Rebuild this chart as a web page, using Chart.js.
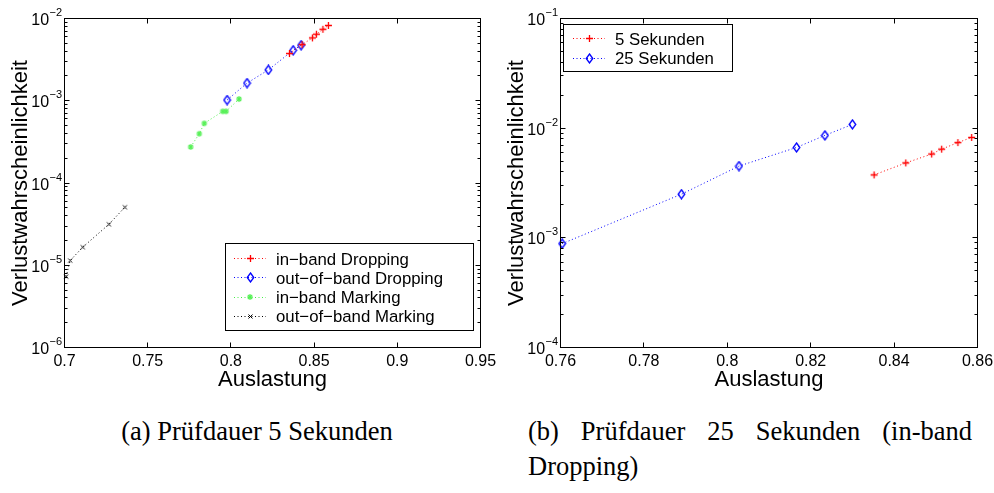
<!DOCTYPE html>
<html><head><meta charset="utf-8">
<script src="https://cdn.jsdelivr.net/npm/chart.js@4.4.1/dist/chart.umd.min.js"></script>
<style>
html,body{margin:0;padding:0;background:#fff;}
body{width:994px;height:493px;position:relative;overflow:hidden;}
canvas{position:absolute;top:0;}
#ca{left:0;} #cb{left:497px;}
.cap{position:absolute;font-family:"Liberation Serif","Times New Roman",serif;font-size:26.5px;color:#000;line-height:35px;}
#capA{left:0;width:514px;text-align:center;top:414px;white-space:nowrap;}
#capB{left:528px;width:444px;text-align:justify;top:414px;}
</style></head><body>
<canvas id="ca" width="497" height="400"></canvas>
<canvas id="cb" width="497" height="400"></canvas>
<div class="cap" id="capA">(a) Prüfdauer 5 Sekunden</div>
<div class="cap" id="capB">(b) Prüfdauer 25 Sekunden (in-band Dropping)</div>
<script>
// ---------- data ----------
const inbandDropX  = [0.8352, 0.8428, 0.8490, 0.8514, 0.8553, 0.8586];
const inbandDropY  = [3.75e-3, 4.82e-3, 5.81e-3, 6.44e-3, 7.39e-3, 8.23e-3];
const outbandDropX = [0.7977, 0.8097, 0.8225, 0.8374, 0.8422];
const outbandDropY = [1.02e-3, 1.64e-3, 2.37e-3, 4.11e-3, 4.73e-3];
const inbandMarkX  = [0.7758, 0.7810, 0.7840, 0.7951, 0.7971, 0.8049];
const inbandMarkY  = [2.74e-4, 3.97e-4, 5.31e-4, 7.43e-4, 7.43e-4, 1.05e-3];
const outbandMarkX = [0.7010, 0.7034, 0.7110, 0.7267, 0.7363];
const outbandMarkY = [7.27e-6, 1.14e-5, 1.66e-5, 3.15e-5, 5.08e-5];
const sek5X  = inbandDropX;
const sek5Y  = inbandDropY;
const sek25X = [0.7604, 0.7890, 0.8028, 0.8166, 0.8234, 0.8300];
const sek25Y = [8.85e-4, 2.50e-3, 4.51e-3, 6.67e-3, 8.59e-3, 1.082e-2];

const labelsA = ['in\u2212band Dropping', 'out\u2212of\u2212band Dropping', 'in\u2212band Marking', 'out\u2212of\u2212band Marking'];
const labelsB = ['5 Sekunden', '25 Sekunden'];

const xTicksA = [0.7, 0.75, 0.8, 0.85, 0.9, 0.95];
const xTickLabelsA = ['0.7', '0.75', '0.8', '0.85', '0.9', '0.95'];
const yDecadesA = [-6, -5, -4, -3, -2];
const xTicksB = [0.76, 0.78, 0.8, 0.82, 0.84, 0.86];
const xTickLabelsB = ['0.76', '0.78', '0.8', '0.82', '0.84', '0.86'];
const yDecadesB = [-4, -3, -2, -1];

const xTitle = 'Auslastung';
const yTitle = 'Verlustwahrscheinlichkeit';

// ---------- marker images ----------
function mk(w, h, draw) { const c = document.createElement('canvas'); c.width = w; c.height = h; const g = c.getContext('2d'); draw(g); return c; }
const plusImg = mk(9, 9, g => { g.strokeStyle = '#ff0000'; g.lineWidth = 1.3; g.beginPath(); g.moveTo(4.5, 1); g.lineTo(4.5, 8); g.moveTo(1, 4.5); g.lineTo(8, 4.5); g.stroke(); });
const diamondImg = mk(9, 11, g => { g.strokeStyle = '#0000ff'; g.lineWidth = 1.3; g.beginPath(); g.moveTo(4.5, 1); g.lineTo(7.8, 5.5); g.lineTo(4.5, 10); g.lineTo(1.2, 5.5); g.closePath(); g.stroke(); });
const starImg = mk(8, 8, g => { g.strokeStyle = '#55f055'; g.lineWidth = 1.2; g.beginPath(); g.moveTo(4, 1); g.lineTo(4, 7); g.moveTo(1, 4); g.lineTo(7, 4); g.moveTo(1.8, 1.8); g.lineTo(6.2, 6.2); g.moveTo(6.2, 1.8); g.lineTo(1.8, 6.2); g.stroke(); });
const xImg = mk(7, 7, g => { g.strokeStyle = '#000'; g.lineWidth = 1; g.beginPath(); g.moveTo(1.5, 1.5); g.lineTo(5.5, 5.5); g.moveTo(5.5, 1.5); g.lineTo(1.5, 5.5); g.stroke(); });

const FONT = '"Liberation Sans", Arial, Helvetica, sans-serif';

function ds(label, xs, ys, color, img) {
  return { label, data: xs.map((x, i) => ({ x, y: ys[i] })), showLine: true, borderColor: color, backgroundColor: color,
    borderWidth: 1, borderDash: [1, 2.5], pointStyle: img, pointRadius: 4, clip: false, tension: 0 };
}
function logTicks(decs) {
  const out = [];
  decs.forEach((e, k) => {
    out.push({ value: Math.pow(10, e), major: true });
    if (k < decs.length - 1) for (let m = 2; m <= 9; m++) out.push({ value: m * Math.pow(10, e), major: false });
  });
  return out;
}

function axesPlugin(cfg) {
  return {
    id: 'matlabAxes',
    afterDraw(chart) {
      const ctx = chart.ctx, a = chart.chartArea, xs = chart.scales.x, ys = chart.scales.y;
      ctx.save();
      ctx.strokeStyle = '#000'; ctx.lineWidth = 1; ctx.setLineDash([]);
      ctx.strokeRect(a.left, a.top, a.right - a.left, a.bottom - a.top);
      ctx.beginPath();
      xs.ticks.forEach(t => {
        const px = Math.floor(xs.getPixelForValue(t.value)) + 0.5;
        ctx.moveTo(px, a.bottom); ctx.lineTo(px, a.bottom - 5);
        ctx.moveTo(px, a.top); ctx.lineTo(px, a.top + 5);
      });
      ys.ticks.forEach(t => {
        const py = Math.floor(ys.getPixelForValue(t.value)) + 0.5, L = t.major ? 5 : 3;
        ctx.moveTo(a.left, py); ctx.lineTo(a.left + L, py);
        ctx.moveTo(a.right, py); ctx.lineTo(a.right - L, py);
      });
      ctx.stroke();
      // x tick labels
      ctx.fillStyle = '#000'; ctx.font = '16px ' + FONT; ctx.textAlign = 'center'; ctx.textBaseline = 'alphabetic';
      xs.ticks.forEach((t, i) => ctx.fillText(cfg.xLabels[i], xs.getPixelForValue(t.value), a.bottom + 18));
      // y tick labels 10^e
      ys.ticks.filter(t => t.major).forEach(t => {
        const py = ys.getPixelForValue(t.value);
        const e = Math.round(Math.log10(t.value));
        const es = (e < 0 ? '\u2212' : '') + Math.abs(e);
        ctx.font = '11px ' + FONT; const ew = ctx.measureText(es).width;
        ctx.textAlign = 'left'; const ex = a.left - 2.5 - ew;
        ctx.fillText(es, ex, py - 2.5);
        ctx.font = '16px ' + FONT; ctx.textAlign = 'right';
        ctx.fillText('10', ex - 0.3, py + 6.5);
      });
      // axis titles
      ctx.font = '22px ' + FONT; ctx.textAlign = 'center';
      ctx.fillText(cfg.xTitle, (a.left + a.right) / 2, a.bottom + 38.5);
      ctx.save(); ctx.translate(cfg.yTitleX, (a.top + a.bottom) / 2); ctx.rotate(-Math.PI / 2);
      ctx.fillText(cfg.yTitle, 0, 0); ctx.restore();
      // legend
      const L = cfg.legend;
      ctx.fillStyle = '#fff'; ctx.fillRect(L.x0, L.y0, L.x1 - L.x0, L.y1 - L.y0);
      ctx.strokeStyle = '#000'; ctx.lineWidth = 1; ctx.strokeRect(L.x0, L.y0, L.x1 - L.x0, L.y1 - L.y0);
      chart.data.datasets.forEach((d, i) => {
        const y = L.row0 + i * L.dy, yl = Math.floor(y) + 0.5;
        ctx.save(); ctx.strokeStyle = d.borderColor; ctx.lineWidth = d.borderWidth; ctx.setLineDash(d.borderDash);
        ctx.beginPath(); ctx.moveTo(L.lx0, yl); ctx.lineTo(L.lx1, yl); ctx.stroke(); ctx.restore();
        const img = d.pointStyle;
        ctx.drawImage(img, Math.round(L.mx - img.width / 2), Math.round(y - img.height / 2));
        ctx.fillStyle = '#000'; ctx.font = '16.8px ' + FONT; ctx.textAlign = 'left';
        ctx.fillText(d.label, L.tx, y + 6);
      });
      ctx.restore();
    }
  };
}

function makeChart(id, datasets, xr, xTicks, decs, padding, cfg) {
  return new Chart(document.getElementById(id), {
    type: 'scatter',
    data: { datasets },
    options: {
      responsive: false, animation: false, events: [],
      layout: { padding },
      plugins: { legend: { display: false }, tooltip: { enabled: false } },
      scales: {
        x: { type: 'linear', min: xr[0], max: xr[1], ticks: { display: false }, grid: { display: false }, border: { display: false },
             afterBuildTicks: s => { s.ticks = xTicks.map(v => ({ value: v })); }, afterFit: s => { s.height = 0; } },
        y: { type: 'logarithmic', min: Math.pow(10, decs[0]), max: Math.pow(10, decs[decs.length - 1]),
             ticks: { display: false }, grid: { display: false }, border: { display: false },
             afterBuildTicks: s => { s.ticks = logTicks(decs); }, afterFit: s => { s.width = 0; } }
      }
    },
    plugins: [axesPlugin(cfg)]
  });
}

makeChart('ca', [
  ds(labelsA[0], inbandDropX, inbandDropY, '#ff0000', plusImg),
  ds(labelsA[1], outbandDropX, outbandDropY, '#0000ff', diamondImg),
  ds(labelsA[2], inbandMarkX, inbandMarkY, '#44ee44', starImg),
  ds(labelsA[3], outbandMarkX, outbandMarkY, '#000000', xImg)
], [xTicksA[0], xTicksA[xTicksA.length - 1]], xTicksA, yDecadesA,
  { left: 64.5, top: 18.5, right: 16.5, bottom: 52.5 },
  { xLabels: xTickLabelsA, xTitle, yTitle, yTitleX: 26.7,
    legend: { x0: 225.5, y0: 243.5, x1: 473.5, y1: 330.5, row0: 258.7, dy: 19.2, lx0: 234, lx1: 266, mx: 250, tx: 276 } });

makeChart('cb', [
  ds(labelsB[0], sek5X, sek5Y, '#ff0000', plusImg),
  ds(labelsB[1], sek25X, sek25Y, '#0000ff', diamondImg)
], [xTicksB[0], xTicksB[xTicksB.length - 1]], xTicksB, yDecadesB,
  { left: 63.5, top: 18.5, right: 16.5, bottom: 52.5 },
  { xLabels: xTickLabelsB, xTitle, yTitle, yTitleX: 26,
    legend: { x0: 66.5, y0: 24.5, x1: 235.5, y1: 71.5, row0: 38.7, dy: 19.6, lx0: 76, lx1: 108, mx: 92, tx: 118 } });
</script>
</body></html>
